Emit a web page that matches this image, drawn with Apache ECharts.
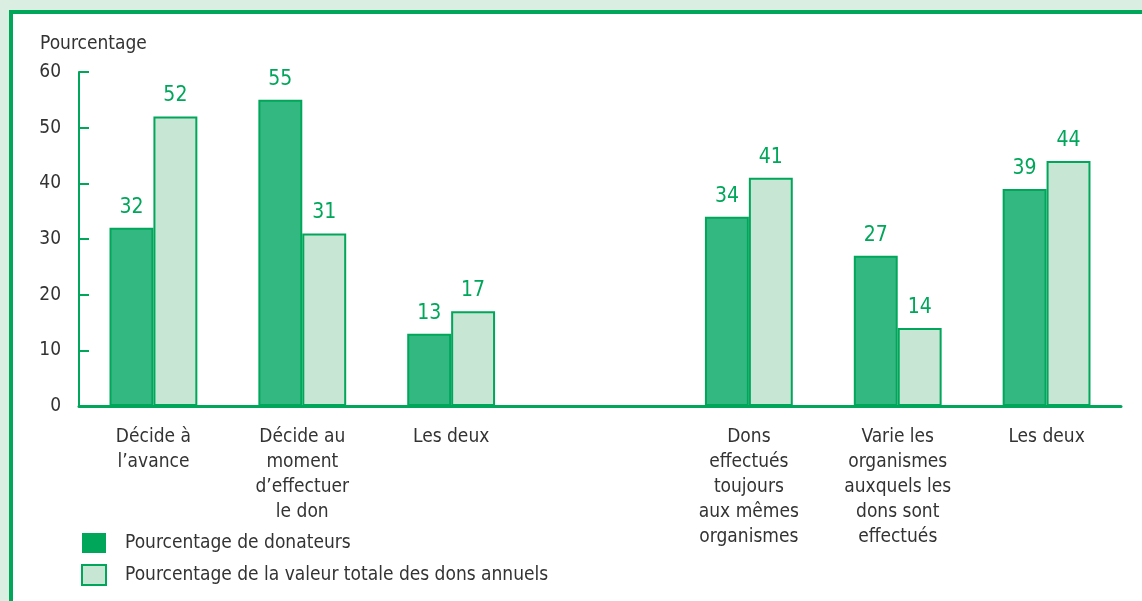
<!DOCTYPE html>
<html>
<head>
<meta charset="utf-8">
<script src="https://cdn.jsdelivr.net/npm/echarts@6/dist/echarts.min.js"></script>
<style>
  html, body { margin: 0; padding: 0; background: #dbeee2; }
  #panel {
    position: absolute; left: 9px; top: 10px; right: 0; bottom: 0;
    background: #fff;
    border-top: 4px solid #00a65a;
    border-left: 4px solid #00a65a;
  }
  #chart { position: absolute; left: 0; top: 0; width: 1142px; height: 601px; }
</style>
</head>
<body>
<div id="panel"></div>
<div id="chart"></div>
<script>
const categories = [
  "Décide à\nl’avance",
  "Décide au\nmoment\nd’effectuer\nle don",
  "Les deux",
  "",
  "Dons\neffectués\ntoujours\naux mêmes\norganismes",
  "Varie les\norganismes\nauxquels les\ndons sont\neffectués",
  "Les deux"
];
const donateurs = [32, 55, 13, "-", 34, 27, 39];
const valeurDons = [52, 31, 17, "-", 41, 14, 44];
const yTicks = [0, 60, 10]; // min, max, interval

const font = "'Liberation Sans Narrow', 'DejaVu Sans Condensed', 'Roboto', sans-serif";
const green = "#00a65a";

const chart = echarts.init(document.getElementById("chart"));

const labelStyle = {
  show: true,
  position: "top",
  distance: 10,
  color: green,
  fontSize: 21,
  fontFamily: font,
};

chart.setOption({
  animation: false,
  textStyle: { fontFamily: font },
  grid: { left: 79, right: 21, top: 72, bottom: 195 },
  legend: {
    orient: "vertical",
    left: 76,
    top: 528,
    icon: "rect",
    itemWidth: 24,
    itemHeight: 20,
    itemGap: 11,
    textStyle: { color: "#333", fontSize: 19, fontFamily: font, padding: [0, 0, 0, 14] },
    data: [
      { name: "Pourcentage de donateurs", itemStyle: { color: green, borderWidth: 0 } },
      { name: "Pourcentage de la valeur totale des dons annuels" },
    ],
  },
  xAxis: {
    type: "category",
    data: categories,
    axisTick: { show: false },
    axisLine: { lineStyle: { color: green, width: 3 } },
    axisLabel: {
      color: "#333",
      fontSize: 19,
      lineHeight: 25,
      margin: 19,
      interval: 0,
      fontFamily: font,
    },
  },
  yAxis: {
    type: "value",
    min: yTicks[0],
    max: yTicks[1],
    interval: yTicks[2],
    name: "Pourcentage",
    nameLocation: "end",
    nameGap: 18,
    nameTextStyle: { color: "#333", fontSize: 19, align: "left", padding: [0, 0, 0, -39], fontFamily: font },
    axisLine: { show: true, lineStyle: { color: green, width: 2 } },
    axisTick: { show: true, inside: true, length: 10, lineStyle: { color: green, width: 2 } },
    axisLabel: { color: "#333", fontSize: 19, margin: 18, fontFamily: font },
    splitLine: { show: false },
  },
  series: [
    {
      name: "Pourcentage de donateurs",
      type: "bar",
      data: donateurs,
      barGap: "0%",
      barCategoryGap: "41%",
      itemStyle: { color: "#34b882", borderColor: green, borderWidth: 2 },
      label: labelStyle,
    },
    {
      name: "Pourcentage de la valeur totale des dons annuels",
      type: "bar",
      data: valeurDons,
      itemStyle: { color: "#c8e6d4", borderColor: green, borderWidth: 2 },
      label: labelStyle,
    },
  ],
});
</script>
</body>
</html>
